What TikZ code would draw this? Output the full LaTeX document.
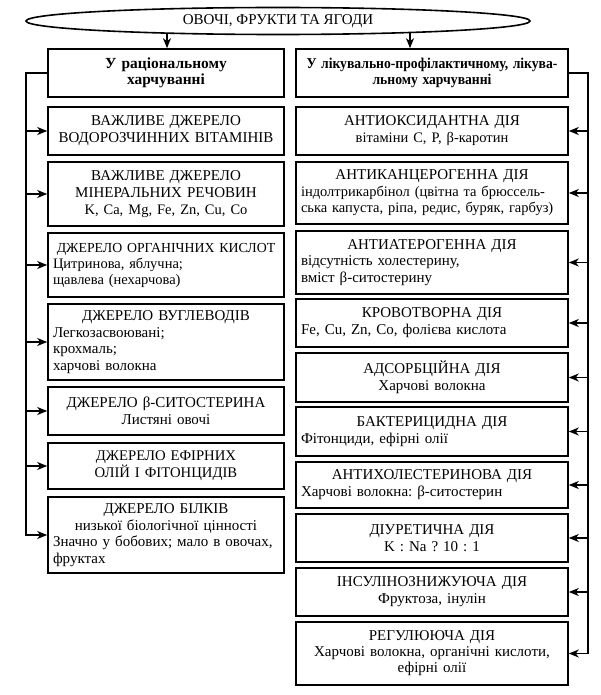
\documentclass[tikz,border=0pt]{standalone}
\usepackage{fontspec}
\usepackage{graphicx}
\setmainfont{Liberation Serif}
\usetikzlibrary{arrows.meta,shapes.geometric,calc}
\frenchspacing
\newcommand\ctrl[1]{{\centering #1\par}}
\newcommand\jst[1]{\makebox[\linewidth][s]{#1}}
\newcommand\sx[2]{\scalebox{#1}[1]{#2}}
\newcommand\fs[2]{\fontsize{#1}{#2}\selectfont}
\begin{document}
\begin{tikzpicture}[x=1pt,y=-1pt,
  box/.style={draw, line width=1.6pt, inner xsep=5pt, inner ysep=0pt, align=left, font=\fs{15}{17}},
  lbox/.style={box, text width=226pt, minimum height=#1},
  rbox/.style={box, text width=262pt, minimum height=#1},
  arr/.style={line width=1.5pt, -{Stealth[length=10pt,width=8pt,inset=3pt]}}]
\useasboundingbox (0,0) rectangle (600,695);

\node[ellipse, draw, line width=1.6pt, minimum width=504pt, minimum height=27pt, inner sep=0pt,
      font=\fs{15}{17}] (top) at (278,21) {ОВОЧІ, ФРУКТИ ТА ЯГОДИ};

\node[lbox=48pt, font=\bfseries\fs{15.4}{16}] (L0) at (166,73) {\ctrl{У раціональному\\харчуванні}};
\node[rbox=48pt, font=\bfseries\fs{15}{16}] (R0) at (432,73) {\ctrl{\sx{0.91}{У лікувально-профілактичному, лікува-}\\\sx{0.91}{льному харчуванні}}};

\coordinate (t1) at (167,33);
\coordinate (t2) at (410,32.5);
\draw[arr] (t1) -- (t1 |- L0.north);
\draw[arr] (t2) -- (t2 |- R0.north);

% left column
\node[lbox=48pt] (L1) at (166,131) {\ctrl{ВАЖЛИВЕ ДЖЕРЕЛО\\ВОДОРОЗЧИННИХ ВІТАМІНІВ}};
\node[lbox=64pt] (L2) at (166,194) {\ctrl{ВАЖЛИВЕ ДЖЕРЕЛО\\МІНЕРАЛЬНИХ РЕЧОВИН\\\fs{14.5}{17}K, Ca, Mg, Fe, Zn, Cu, Co}};
\node[lbox=64pt, font=\fs{14.5}{16}] (L3) at (166,265) {\ctrl{\fs{13.8}{16}ДЖЕРЕЛО ОРГАНІЧНИХ КИСЛОТ}Цитринова, яблучна;\\щавлева (нехарчова)};
\node[lbox=76pt, font=\fs{15}{16.5}] (L4) at (166,342) {\ctrl{ДЖЕРЕЛО ВУГЛЕВОДІВ}Легкозасвоювані;\\крохмаль;\\харчові волокна};
\node[lbox=48pt] (L5) at (166,411) {\ctrl{ДЖЕРЕЛО β-СИТОСТЕРИНА\\Листяні овочі}};
\node[lbox=46pt, font=\fs{14.7}{17}] (L6) at (166,466) {\ctrl{ДЖЕРЕЛО ЕФІРНИХ\\ОЛІЙ І ФІТОНЦИДІВ}};
\node[lbox=76pt, font=\fs{15}{16.5}] (L7) at (166,535) {\ctrl{ДЖЕРЕЛО БІЛКІВ\\низької біологічної цінності}\jst{Значно у бобових; мало в овочах,}\\фруктах};

% right column
\node[rbox=48pt] (R1) at (432,131) {\ctrl{АНТИОКСИДАНТНА ДІЯ\\\fs{14.5}{17}вітаміни C, P, β-каротин}};
\node[rbox=62pt, font=\fs{14.5}{16.5}] (R2) at (432,193) {\ctrl{\fs{15}{16.5}АНТИКАНЦЕРОГЕННА ДІЯ}\jst{індолтрикарбінол (цвітна та брюссель-}\\\jst{ська капуста, ріпа, редис, буряк, гарбуз)}};
\node[rbox=63pt, font=\fs{15}{16.5}] (R3) at (432,262.5) {\ctrl{АНТИАТЕРОГЕННА ДІЯ}відсутність холестерину,\\вміст β-ситостерину};
\node[rbox=48pt] (R4) at (432,323) {\ctrl{КРОВОТВОРНА ДІЯ}Fe, Cu, Zn, Co, фолієва кислота};
\node[rbox=49pt] (R5) at (432,377.5) {\ctrl{АДСОРБЦІЙНА ДІЯ\\Харчові волокна}};
\node[rbox=49pt] (R6) at (432,431.5) {\ctrl{БАКТЕРИЦИДНА ДІЯ}Фітонциди, ефірні олії};
\node[rbox=46pt] (R7) at (432,485) {\ctrl{АНТИХОЛЕСТЕРИНОВА ДІЯ}Харчові волокна: β-ситостерин};
\node[rbox=48pt] (R8) at (432,538) {\ctrl{ДІУРЕТИЧНА ДІЯ\\K : Na ? 10 : 1}};
\node[rbox=48pt] (R9) at (432,592) {\ctrl{ІНСУЛІНОЗНИЖУЮЧА ДІЯ\\Фруктоза, інулін}};
\node[rbox=63pt, font=\fs{15}{16}] (R10) at (432,653.5) {\ctrl{РЕГУЛЮЮЧА ДІЯ\\Харчові волокна, органічні кислоти,\\ефірні олії}};

% buses
\coordinate (lbus) at (26,73);
\coordinate (rbus) at (588,73);
\draw[arr] (L0.west) -- (lbus) |- (L7.west);
\foreach \n in {L1,L2,L3,L4,L5,L6}
  \draw[arr] (lbus |- \n.west) -- (\n.west);
\draw[arr] (R0.east) -- (rbus) |- (R10.east);
\foreach \n in {R1,R2,R3,R4,R5,R6,R7,R8,R9}
  \draw[arr] (rbus |- \n.east) -- (\n.east);
\end{tikzpicture}
\end{document}
